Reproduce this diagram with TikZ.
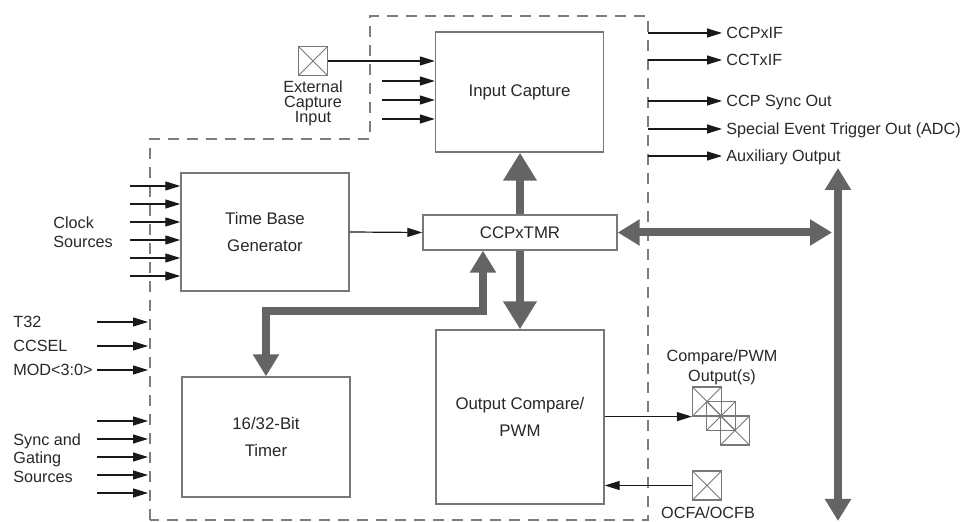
\documentclass[tikz,border=0pt]{standalone}
\usepackage{fontspec}
\setmainfont{Liberation Sans}
\usepackage{tikz}
\usetikzlibrary{arrows.meta,positioning}
\definecolor{boxgray}{RGB}{120,120,120}
\definecolor{busgray}{RGB}{100,100,100}
\definecolor{framegray}{RGB}{125,125,125}
\definecolor{sigblack}{RGB}{25,25,25}
\definecolor{txtgray}{RGB}{40,40,40}

\begin{document}
\begin{tikzpicture}[x=0.5pt,y=-0.5pt,>={Triangle[length=7.5pt,width=4.5pt]}]
  \tikzstyle{block}=[draw=boxgray,line width=0.7pt,align=center,font=\fontsize{8.4}{13.5}\selectfont,text=txtgray,minimum width=84pt,inner sep=0pt]
  \tikzstyle{xbox}=[draw=boxgray,line width=0.6pt,minimum size=14.5pt,inner sep=0pt,
    path picture={\draw[boxgray,line width=0.5pt] (path picture bounding box.north west) -- (path picture bounding box.south east)
      (path picture bounding box.north east) -- (path picture bounding box.south west);}]
  \tikzstyle{sig}=[draw=sigblack,line width=0.6pt,->]
  \tikzstyle{bus}=[draw=busgray,line width=4pt,>={Triangle[length=11pt,width=12.5pt]}]
  \tikzstyle{bigbus}=[bus,>={Triangle[length=14pt,width=16pt]}]
  \tikzstyle{lbl}=[font=\fontsize{8.1}{10}\selectfont,text=txtgray,inner sep=0pt]
  \tikzstyle{pin}=[lbl,anchor=west,text height=7.5pt,text depth=1.5pt]
  \tikzstyle{dashframe}=[draw=framegray,line width=0.7pt,dash pattern=on 5.5pt off 4pt]

  \fill[white] (0,0) rectangle (964,522);
  \useasboundingbox (0,0) rectangle (964,522);

  % module outline
  \draw[dashframe] (150,520) -- (150,139) -- (370,139) -- (370,16) -- (648,16) -- (648,520) -- cycle;

  % blocks
  \node[block,minimum height=60pt] (inCap) at (519.5,92) {Input Capture};
  \node[block,minimum height=59pt] (tbg) at (265,232) {Time Base\\Generator};
  \node[block,minimum width=97pt,minimum height=17.5pt] (tmr) at (520,232.5) {CCPxTMR};
  \node[block,minimum height=60pt] (timer) at (266,437) {16/32-Bit\\Timer};
  \node[block,minimum height=87pt] (ocmp) at (520,417) {Output Compare/\\PWM};

  % capture inputs
  \node[xbox] (extIn) at (313,61) {};
  \node[lbl,align=center,font=\fontsize{8.1}{7.5}\selectfont] (extLbl) at (313,103) {External\\Capture\\Input};
  \draw[sig] (extIn.east) -- (extIn.east -| inCap.west);
  \foreach \y [count=\i] in {81,100,119} {
    \coordinate (icIn\i) at (382,\y);
    \draw[sig] (icIn\i) -- (icIn\i -| inCap.west);
  }

  % clock sources
  \foreach \y [count=\i] in {186,204,222,240,258,276} {
    \coordinate (clk\i) at (130,\y);
    \draw[sig] (clk\i) -- (clk\i -| tbg.west);
  }
  \node[lbl,align=left,anchor=west,font=\fontsize{8.1}{9.5}\selectfont] (clkLbl) at (53,232.5) {Clock\\Sources};

  % mode inputs
  \coordinate (edgeL) at (148,0);
  \foreach \y/\txt [count=\i] in {322/T32,346/CCSEL,370/{MOD<3:0>}} {
    \node[pin] (mode\i) at (13,\y) {\txt};
    \coordinate (modeA\i) at (97,\y);
    \draw[sig] (modeA\i) -- (modeA\i -| edgeL);
  }

  % sync and gating sources
  \foreach \y [count=\i] in {421,439,457,475,493} {
    \coordinate (syn\i) at (97,\y);
    \draw[sig] (syn\i) -- (syn\i -| edgeL);
  }
  \node[lbl,align=left,anchor=west,font=\fontsize{8.1}{9.25}\selectfont] (synLbl) at (13,458) {Sync and\\Gating\\Sources};

  % timer links
  \draw[sig] (tbg.east) -- (tmr.west);
  \draw[bigbus,->] (tmr.north) -- (tmr.north |- inCap.south);
  \draw[bigbus,->] (tmr.south) -- (ocmp.north);
  \coordinate (tbend) at (483,311);
  \draw[bus,<->] (timer.north) |- (tbend) -- (tbend |- tmr.south);

  % system bus
  \coordinate (busTop) at (838,168);
  \coordinate (busBot) at (838,521);
  \draw[bus,<->] (busTop) -- (busBot);
  \draw[bus,<->,shorten >=3pt] (tmr.east) -- (tmr.east -| busTop);

  % outputs
  \coordinate (edgeR) at (648,0);
  \foreach \y/\txt [count=\i] in {33/CCPxIF,60/CCTxIF,101/CCP Sync Out,129/{Special Event Trigger Out (ADC)},156/Auxiliary Output} {
    \node[pin] (out\i) at (726,\y) {\txt};
    \draw[sig] (out\i.west -| edgeR) -- ([xshift=-2pt]out\i.west);
  }

  % compare outputs
  \node[xbox] (cpo1) at (707,401.5) {};
  \node[xbox] (cpo2) at ([shift={(14,14.5)}]cpo1) {};
  \node[xbox] (cpo3) at ([shift={(14,14.5)}]cpo2) {};
  \node[lbl,align=center] (cpoLbl) at (722,367) {Compare/PWM\\Output(s)};
  \draw[sig] (ocmp.east |- cpo1.south west) -- (cpo1.south west);

  \node[xbox] (ocf) at (707,485.5) {};
  \node[lbl] (ocfLbl) at (708,513) {OCFA/OCFB};
  \draw[sig] (ocf.west) -- (ocf.west -| ocmp.east);
\end{tikzpicture}
\end{document}
